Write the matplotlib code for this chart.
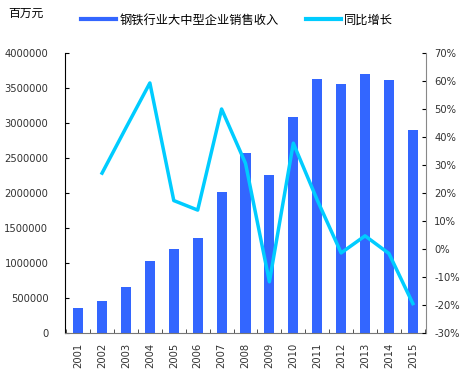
import matplotlib
matplotlib.use('Agg')
import numpy as np
import matplotlib.pyplot as plt

plt.rcParams['font.family'] = ['Noto Sans CJK SC', 'DejaVu Sans']

# data
years = ['2001', '2002', '2003', '2004', '2005', '2006', '2007', '2008',
         '2009', '2010', '2011', '2012', '2013', '2014', '2015']
sales = [358000, 454000, 659000, 1026000, 1198000, 1351000, 2010000, 2577000,
         2258000, 3092000, 3628000, 3556000, 3699000, 3608000, 2902000]
# yoy growth in %, first year has no value
growth = [np.nan, 27.1, 43.3, 59.3, 17.3, 13.9, 50.0, 30.6,
          -11.7, 37.8, 17.5, -1.4, 4.7, -1.6, -19.5]

bar_label = '钢铁行业大中型企业销售收入'
line_label = '同比增长'

barcol = '#3366FF'
linecol = '#00CCFF'
tickfont = {'family': 'DejaVu Sans', 'size': 7.2}

fig = plt.figure(figsize=(4.71, 3.69), dpi=100)
ax = fig.add_axes([65/471, 1-333/369, (426-65)/471, (333-53)/369])
x = np.arange(len(years))
ax.bar(x, sales, width=0.42, color=barcol, label=bar_label, zorder=2)
ax.set_ylim(0, 4000000)
ax.set_yticks(np.arange(0, 4000001, 500000))
ax.set_yticklabels([str(v) for v in range(0, 4000001, 500000)], fontdict=tickfont,
                   color='#333333')
ax.set_xlim(-0.55, len(years) - 0.45)
ax.set_xticks(x)
ax.set_xticklabels(years, rotation=90, fontdict=tickfont, color='#333333')
ax.tick_params(axis='x', length=0, pad=7)
ax.set_xticks(np.arange(-0.5, len(years)), minor=True)
ax.tick_params(axis='x', which='minor', direction='in', length=3, color='#333333')
ax.tick_params(axis='y', direction='in', length=3, pad=12)
ax.spines['top'].set_visible(False)
ax.spines['right'].set_visible(False)
ax.spines['bottom'].set_color('#777777')

ax2 = ax.twinx()
ax2.plot(x, growth, color=linecol, lw=2.5, label=line_label, zorder=3)
ax2.set_ylim(-30, 70)
ax2.set_yticks(np.arange(-30, 71, 10))
ax2.set_yticklabels(['%d%%' % v for v in range(-30, 71, 10)], fontdict=tickfont,
                    color='#333333')
ax2.tick_params(axis='y', direction='in', length=3, pad=6)
ax2.spines['top'].set_visible(False)
ax2.spines['left'].set_visible(False)
ax2.spines['bottom'].set_visible(False)
ax2.spines['right'].set_color('#888888')

fig.text(8/471, 1-13/369, '百万元', fontsize=8.5, va='center')

# legend drawn with line handles
h1 = plt.Line2D([], [], color=barcol, lw=3)
h2 = plt.Line2D([], [], color=linecol, lw=3)
fig.legend([h1, h2], [bar_label, line_label], loc='center left',
           bbox_to_anchor=(70/471, 1-20/369), ncol=2, frameon=False,
           fontsize=8.8, handlelength=2.9, handletextpad=0.25, columnspacing=2.2)

plt.savefig('out.png', dpi=100)
